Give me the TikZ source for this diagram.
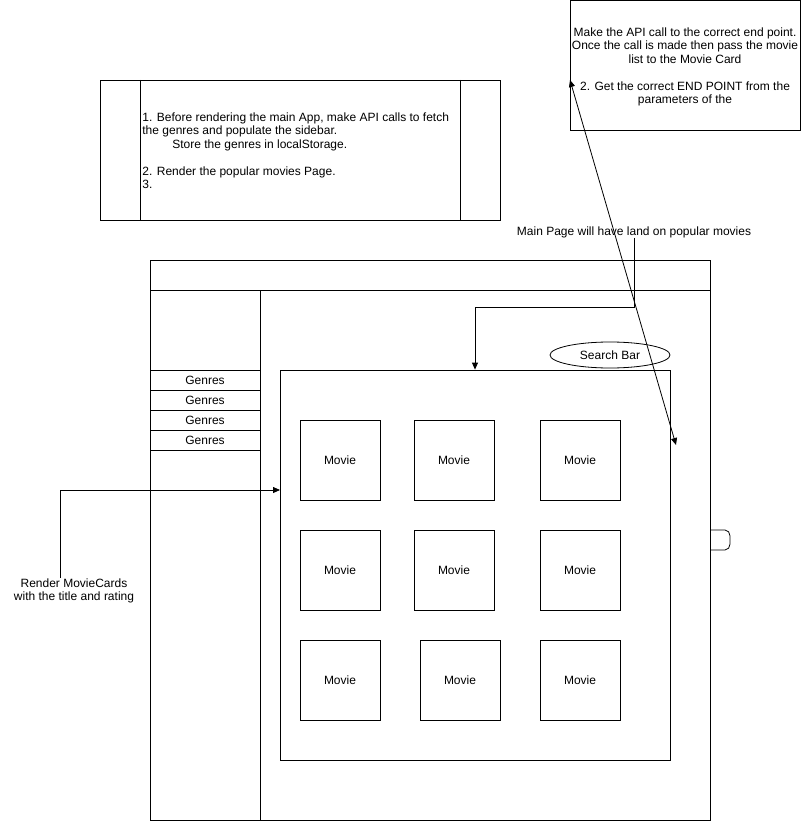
\documentclass[tikz,border=0pt]{standalone}
\usepackage{fontspec}
\setmainfont{Liberation Sans}
\usetikzlibrary{positioning, shapes.geometric, arrows.meta}

\begin{document}
\begin{tikzpicture}[
    x=1pt, y=-1pt,
    line width=0.8pt,
    every node/.style={font=\fontsize{12}{13.5}\selectfont},
    movie/.style={
        rectangle, draw=black,
        minimum width=80pt, minimum height=80pt,
        inner sep=0pt
    },
    genre/.style={
        rectangle, draw=black,
        minimum width=110pt, minimum height=20pt,
        inner sep=0pt, outer sep=0pt
    },
    note/.style={inner sep=0pt, align=center},
    arrow/.style={-{Triangle[length=7pt,width=6pt]}}
]
\useasboundingbox (0,0) rectangle (801,821);

% Notes at the top
\node[rectangle, draw=black, minimum width=400pt, minimum height=140pt,
      inner sep=0pt] (appnote) at (300,150) {};
\draw (140,80) -- (140,220);
\draw (460,80) -- (460,220);
\node[inner sep=0pt, anchor=north west, align=left] (apptext) at (142,112)
{1. Before rendering the main App, make API calls to fetch\\
the genres and populate the sidebar.\\
\hspace*{30pt}Store the genres in localStorage.\\[13.5pt]
2. Render the popular movies Page.\\
3.};

\node[rectangle, draw=black, minimum width=230pt, minimum height=130pt,
      inner sep=0pt] (apinote) at (685,65) {};
\node[note] (apitext) at (685,67)
{Make the API call to the correct end point.\\
Once the call is made then pass the movie\\
list to the Movie Card\\[13.5pt]
2. Get the correct END POINT from the\\
parameters of the};

% Page frame
\node[rectangle, draw=black, minimum width=560pt, minimum height=560pt,
      inner sep=0pt] (page) at (430,540) {};
\draw (150,290) -- (710,290);
\draw (260,290) -- (260,820);
\draw (710,530) -- (725,530) to[out=0,in=90] (730,536) -- (730,544)
      to[out=-90,in=0] (725,550) -- (710,550);

% Sidebar
\node[genre] (genre1) at (205,380) {Genres};
\node[genre, below=0pt of genre1] (genre2) {Genres};
\node[genre, below=0pt of genre2] (genre3) {Genres};
\node[genre, below=0pt of genre3] (genre4) {Genres};

% Content
\node[ellipse, draw=black, minimum width=120pt, minimum height=26pt,
      inner sep=0pt] (search) at (610,355) {Search Bar};
\node[rectangle, draw=black, minimum width=390pt, minimum height=390pt,
      inner sep=0pt] (content) at (475,565) {};

\node[movie] (m11) at (340,460) {Movie};
\node[movie] (m12) at (454,460) {Movie};
\node[movie] (m13) at (580,460) {Movie};
\node[movie] (m21) at (340,570) {Movie};
\node[movie] (m22) at (454,570) {Movie};
\node[movie] (m23) at (580,570) {Movie};
\node[movie] (m31) at (340,680) {Movie};
\node[movie] (m32) at (460,680) {Movie};
\node[movie] (m33) at (580,680) {Movie};

% Labels and connectors
\node[note] (landlabel) at (634,232) {Main Page will have land on popular movies};
\coordinate (bend) at (634,307);
\draw[arrow] (landlabel.south) -- (bend) -| (content.north);

\node[note] (renderlabel) at (74,591)
{Render MovieCards\\ with the title and rating};
\coordinate (renderstart) at (60,578);
\coordinate (hit) at (280,490);
\draw[arrow] (renderstart) |- (hit);

\coordinate (apiend) at (570,80);
\coordinate (cardend) at (676,445);
\draw[{Triangle[length=7pt,width=6pt]}-{Triangle[length=7pt,width=6pt]}]
    (apiend) -- (cardend);

\end{tikzpicture}
\end{document}
